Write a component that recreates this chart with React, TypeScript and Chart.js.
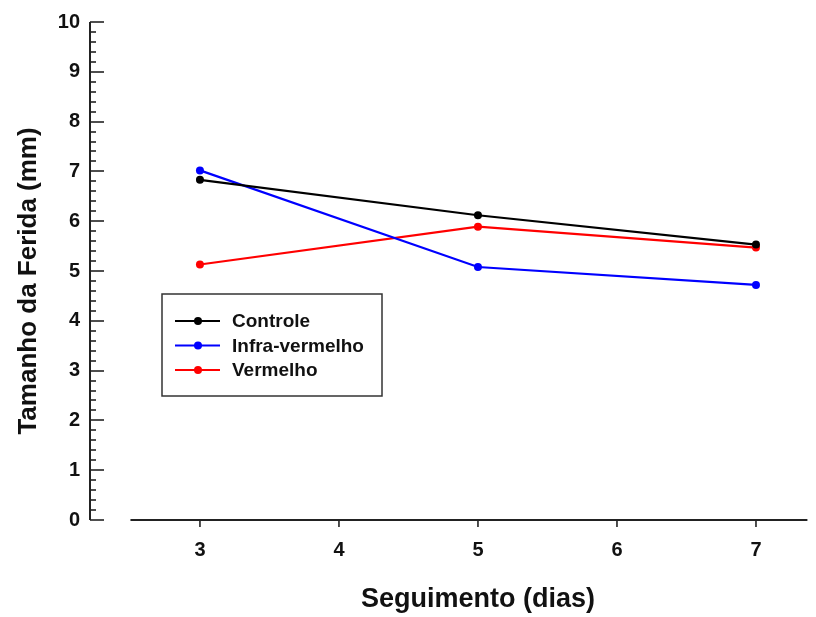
import React, { useEffect, useRef } from "react";
import { Chart, registerables } from "chart.js";

Chart.register(...registerables);

const days = [3, 5, 7];
const controle = [6.83, 6.12, 5.53];
const infraVermelho = [7.02, 5.08, 4.72];
const vermelho = [5.13, 5.89, 5.47];
const seriesLabels = ["Controle", "Infra-vermelho", "Vermelho"];
const seriesColors = ["#000000", "#0000ff", "#ff0000"];
const xTickValues = [3, 4, 5, 6, 7];
const yTitle = "Tamanho da Ferida (mm)";
const xTitle = "Seguimento (dias)";

const FONT = "'Liberation Sans', Arial, sans-serif";

const axesPlugin = {
  id: "customAxes",
  afterDraw(chart: any) {
    const ctx = chart.ctx;
    const x = chart.scales.x;
    const y = chart.scales.y;
    ctx.save();
    ctx.strokeStyle = "#222";
    ctx.lineWidth = 2;
    const ax = chart.chartArea.left;
    ctx.beginPath();
    ctx.moveTo(ax, y.getPixelForValue(10));
    ctx.lineTo(ax, y.getPixelForValue(0));
    ctx.stroke();
    ctx.lineWidth = 1.6;
    for (let i = 0; i <= 50; i++) {
      const v = i / 5;
      const py = Math.round(y.getPixelForValue(v));
      const len = i % 5 === 0 ? 14 : 6;
      ctx.beginPath();
      ctx.moveTo(ax, py);
      ctx.lineTo(ax + len, py);
      ctx.stroke();
    }
    ctx.lineWidth = 2;
    const by = y.getPixelForValue(0);
    ctx.beginPath();
    ctx.moveTo(x.getPixelForValue(2.5), by);
    ctx.lineTo(x.getPixelForValue(7.37), by);
    ctx.stroke();
    ctx.lineWidth = 1.6;
    for (const v of xTickValues) {
      const px = x.getPixelForValue(v);
      ctx.beginPath();
      ctx.moveTo(px, by);
      ctx.lineTo(px, by + 7);
      ctx.stroke();
    }
    // x title
    ctx.fillStyle = "#111";
    ctx.font = `bold 27px ${FONT}`;
    ctx.textAlign = "center";
    ctx.textBaseline = "alphabetic";
    ctx.fillText(xTitle, x.getPixelForValue(5), 607);
    // y title
    ctx.font = `bold 26px ${FONT}`;
    ctx.translate(36, 281);
    ctx.rotate(-Math.PI / 2);
    ctx.fillText(yTitle, 0, 0);
    ctx.restore();

    // legend
    ctx.save();
    const lx = 162, ly = 294, lw = 220, lh = 102;
    ctx.strokeStyle = "#333";
    ctx.lineWidth = 1.5;
    ctx.strokeRect(lx, ly, lw, lh);
    ctx.font = `bold 19px ${FONT}`;
    ctx.textAlign = "left";
    ctx.textBaseline = "middle";
    chart.data.datasets.forEach((ds: any, i: number) => {
      const ry = 321 + i * 24.5;
      ctx.strokeStyle = ds.borderColor;
      ctx.fillStyle = ds.borderColor;
      ctx.lineWidth = 2;
      ctx.beginPath();
      ctx.moveTo(175, ry);
      ctx.lineTo(220, ry);
      ctx.stroke();
      ctx.beginPath();
      ctx.arc(198, ry, 4, 0, Math.PI * 2);
      ctx.fill();
      ctx.fillStyle = "#111";
      ctx.fillText(ds.label, 232, ry + 1);
    });
    ctx.restore();
  },
};

export default function App() {
  const ref = useRef<HTMLCanvasElement>(null);
  useEffect(() => {
    if (!ref.current) return;
    const mk = (vals: number[]) => days.map((d, i) => ({ x: d, y: vals[i] }));
    const all = [controle, infraVermelho, vermelho];
    const chart = new Chart(ref.current, {
      type: "line",
      data: {
        datasets: all.map((vals, i) => ({
          label: seriesLabels[i],
          data: mk(vals),
          borderColor: seriesColors[i],
          backgroundColor: seriesColors[i],
          borderWidth: 2.2,
          pointRadius: 4,
          pointBorderWidth: 0,
          pointBackgroundColor: seriesColors[i],
          tension: 0,
          fill: false,
        })),
      },
      options: {
        animation: false,
        responsive: false,
        maintainAspectRatio: false,
        layout: { padding: { left: 0, right: 4, top: 19, bottom: 0 } },
        plugins: { legend: { display: false }, tooltip: { enabled: false } },
        scales: {
          x: {
            type: "linear",
            min: 2.209,
            max: 7.403,
            afterFit: (s: any) => {
              s.height = 97;
            },
            afterBuildTicks: (s: any) => {
              s.ticks = xTickValues.map((v) => ({ value: v }));
            },
            border: { display: false },
            grid: { display: false, drawTicks: false },
            ticks: {
              padding: 18,
              color: "#111",
              font: { family: FONT, size: 20, weight: "bold" },
              maxRotation: 0,
              autoSkip: false,
            },
          },
          y: {
            min: 0,
            max: 10,
            afterFit: (s: any) => {
              s.width = 90;
            },
            border: { display: false },
            grid: { display: false, drawTicks: false },
            ticks: {
              stepSize: 1,
              padding: 10,
              color: "#111",
              font: { family: FONT, size: 20, weight: "bold" },
            },
          },
        },
      },
      plugins: [axesPlugin],
    });
    return () => chart.destroy();
  }, []);
  return (
    <div style={{ position: "fixed", left: 0, top: 0, width: 816, height: 617, background: "#fff" }}>
      <canvas ref={ref} width={816} height={617} style={{ display: "block" }} />
    </div>
  );
}
